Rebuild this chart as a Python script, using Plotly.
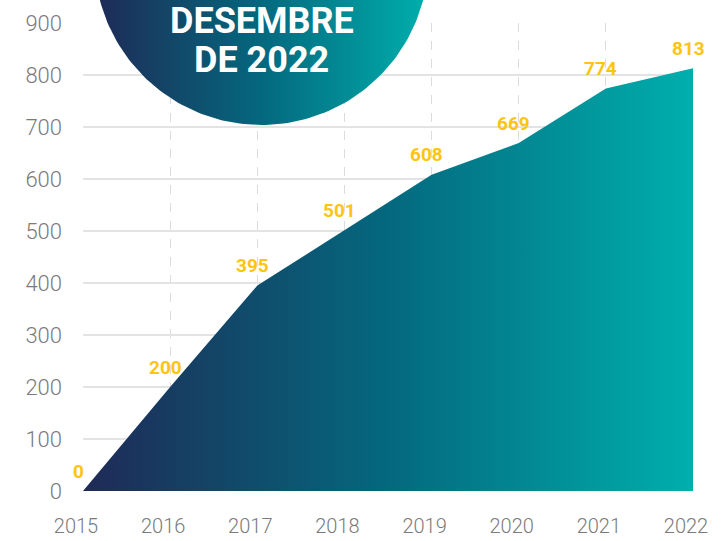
import numpy as np
import plotly.graph_objects as go

years = [2015, 2016, 2017, 2018, 2019, 2020, 2021, 2022]
values = [0, 200, 395, 501, 608, 669, 774, 813]
y_ticks = [0, 100, 200, 300, 400, 500, 600, 700, 800, 900]
title_lines = ["DESEMBRE", "DE 2022"]

W, H = 722, 541
grad = [[0, "#1f2a56"], [0.5, "#04687e"], [1, "#00afad"]]

fig = go.Figure()

# main area
fig.add_trace(go.Scatter(
    x=years, y=values, mode="lines", line=dict(width=0),
    fill="tozeroy", fillgradient=dict(type="horizontal", colorscale=grad),
    hoverinfo="skip", showlegend=False, xaxis="x", yaxis="y"))

# decorative circle on a pixel-space overlay
cx, cy, r = 261.5, -42, 167
t = np.linspace(0, 2 * np.pi, 241)
fig.add_trace(go.Scatter(
    x=cx + r * np.cos(t), y=cy + r * np.sin(t), mode="lines", line=dict(width=0),
    fill="toself", fillgradient=dict(type="horizontal", colorscale=grad),
    hoverinfo="skip", showlegend=False, xaxis="x2", yaxis="y2"))

annotations = []
for xv, yv in zip(years, values):
    annotations.append(dict(
        x=xv, y=yv, xref="x", yref="y", text=str(yv), showarrow=False,
        xshift=-5, yshift=20,
        font=dict(family="Roboto", size=19, color="#FDC414", weight="bold")))

for i, line in enumerate(title_lines):
    annotations.append(dict(
        x=cx, y=21 + i * 39, xref="x2", yref="y2", text=line, showarrow=False,
        font=dict(family="Roboto", size=36, color="white", weight="bold")))

fig.update_layout(
    width=W, height=H, margin=dict(l=0, r=0, t=0, b=0, autoexpand=False),
    paper_bgcolor="white", plot_bgcolor="rgba(0,0,0,0)",
    hovermode=False,
    annotations=annotations,
    xaxis=dict(
        domain=[83 / W, 693 / W], range=[2015, 2022], anchor="y",
        automargin=False,
        tickvals=years, ticktext=[str(y) for y in years],
        showgrid=True, gridcolor="#dcdcdc", griddash="dash", gridwidth=1,
        zeroline=False, showline=False, ticks="",
        ticklabelstandoff=21, ticklabelshift=-7,
        tickfont=dict(family="Roboto", size=20, color="#7a7a7a", weight=300)),
    yaxis=dict(
        domain=[(H - 491) / H, (H - 23) / H], range=[0, 900], anchor="x",
        automargin=False,
        tickvals=y_ticks,
        showgrid=True, gridcolor="#e3e3e3", gridwidth=1.5,
        zeroline=False, showline=False, ticks="",
        ticklabelstandoff=20,
        tickfont=dict(family="Roboto", size=22, color="#7a7a7a", weight=300)),
    xaxis2=dict(domain=[0, 1], range=[0, W], anchor="y2", visible=False,
                automargin=False, fixedrange=True),
    yaxis2=dict(domain=[0, 1], range=[H, 0], anchor="x2", visible=False,
                automargin=False, fixedrange=True),
)

fig.write_html(
    "out.html",
    config={"displayModeBar": False},
    post_script="document.body.style.margin='0px';document.body.style.overflow='hidden';",
)
